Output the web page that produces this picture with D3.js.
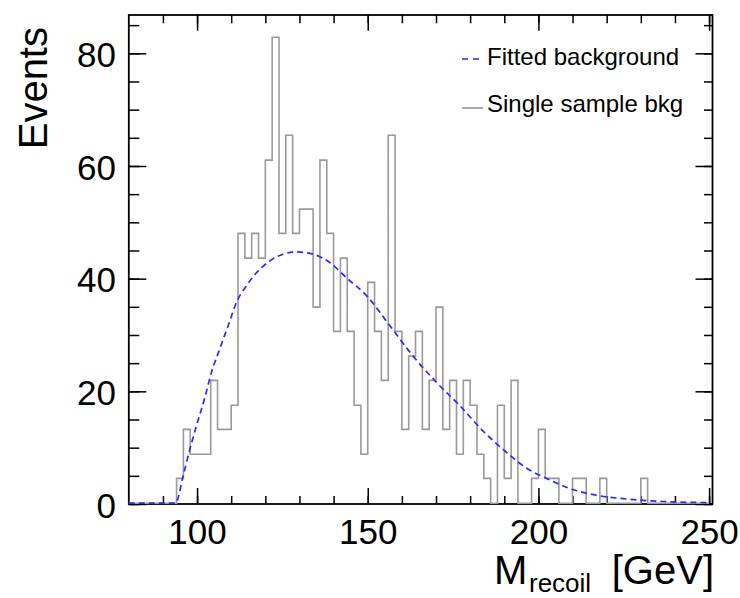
<!DOCTYPE html>
<html><head><meta charset="utf-8">
<script src="https://cdn.jsdelivr.net/npm/d3@7"></script>
<style>
body{margin:0;background:#fff}
svg{display:block}
text{font-family:"Liberation Sans",Arial,Helvetica,sans-serif;fill:#000}
</style>
</head><body><svg id="c" width="740" height="598"></svg>
<script>
// ---- data ----
const binLowEdges = [80,82,84,86,88,90,92,94,96,98,100,102,104,106,108,110,112,114,116,118,120,122,124,126,128,130,132,134,136,138,140,142,144,146,148,150,152,154,156,158,160,162,164,166,168,170,172,174,176,178,180,182,184,186,188,190,192,194,196,198,200,202,204,206,208,210,212,214,216,218,220,222,224,226,228,230,232,234,236,238,240,242,244,246,248];
const binWidth = 2;
const events = [0,0,0,0,0,0,0,4.4,13.1,8.7,8.7,8.7,21.8,13.1,13.1,17.4,47.9,43.5,47.9,43.5,60.9,82.7,47.9,65.3,47.9,52.2,52.2,34.8,60.9,47.9,30.5,43.5,30.5,17.4,8.7,39.2,30.5,21.8,65.3,30.5,13.1,26.1,30.5,13.1,21.8,34.8,13.1,21.8,8.7,21.8,17.4,8.7,4.4,0,17.4,4.4,21.8,0,0,4.4,13.1,4.4,4.4,0,0,4.4,4.4,0,0,4.4,0,0,0,0,0,4.4,0,0,0,0,0,0,0,0,0];
const fitMass = [80,93.7,95.9,97.9,99.8,102.3,104.2,106.6,109.1,111.5,114.5,117.4,121.3,125.2,129.1,134.0,138.9,143.8,149.7,156.5,163.3,170.2,177.0,183.8,190.7,196.6,202.4,209.3,217.1,224.9,236.6,250];
const fitEvents = [0,0,4.8,9.6,13.7,18.8,23.2,27.3,31.5,35.6,38.6,40.9,43.0,44.2,44.6,44.2,42.7,40.0,36.8,31.5,26.1,21.4,17.3,12.8,9.0,6.2,4.4,2.6,1.4,0.8,0.3,0.1];
const xMajorTicks = [100,150,200,250];
const xMinorTicks = [90,100,110,120,130,140,150,160,170,180,190,200,210,220,230,240,250];
const yMajorTicks = [0,20,40,60,80];
const yMinorTicks = [0,5,10,15,20,25,30,35,40,45,50,55,60,65,70,75,80,85];
const xDomain = [80,251];
const yDomain = [0,86.8];
const legendLabels = ["Fitted background","Single sample bkg"];
const yTitle = "Events";
const xTitleMain = "M", xTitleSub = "recoil", xTitleUnit = "[GeV]";

// ---- layout ----
const L = 128.8, R = 712.5, T = 15, B = 504;
const svg = d3.select("#c");
const x = d3.scaleLinear().domain(xDomain).range([L, R]);
const y = d3.scaleLinear().domain(yDomain).range([B, T]);

// axes
function styleAxis(g, fs) {
  g.select(".domain").remove();
  g.selectAll(".tick line").attr("stroke", "#000").attr("stroke-width", 1.5);
  g.selectAll(".tick text").attr("font-size", fs).attr("fill", "#000")
    .style("font-family", '"Liberation Sans",Arial,sans-serif');
}
svg.append("g").attr("transform", `translate(0,${B})`)
  .call(d3.axisBottom(x).tickValues(xMinorTicks).tickSizeInner(-8).tickSizeOuter(0).tickFormat(""))
  .call(g => styleAxis(g, 35));
svg.append("g").attr("transform", `translate(0,${B})`)
  .call(d3.axisBottom(x).tickValues(xMajorTicks).tickSizeInner(-16).tickSizeOuter(0).tickPadding(15).tickFormat(d3.format("d")))
  .call(g => styleAxis(g, 35));
svg.append("g").attr("transform", `translate(0,${T})`)
  .call(d3.axisTop(x).tickValues(xMinorTicks).tickSizeInner(-8.3).tickSizeOuter(0).tickFormat(""))
  .call(g => styleAxis(g, 35));
svg.append("g").attr("transform", `translate(0,${T})`)
  .call(d3.axisTop(x).tickValues(xMajorTicks).tickSizeInner(-15.7).tickSizeOuter(0).tickFormat(""))
  .call(g => styleAxis(g, 35));
svg.append("g").attr("transform", `translate(${L},0)`)
  .call(d3.axisLeft(y).tickValues(yMinorTicks).tickSizeInner(-10.5).tickSizeOuter(0).tickFormat(""))
  .call(g => styleAxis(g, 35));
svg.append("g").attr("transform", `translate(${L},0)`)
  .call(d3.axisLeft(y).tickValues(yMajorTicks).tickSizeInner(-17.5).tickSizeOuter(0).tickPadding(12.8).tickFormat(d3.format("d")))
  .call(g => { styleAxis(g, 35); g.selectAll(".tick text").attr("dy", "0.38em"); });
svg.append("g").attr("transform", `translate(${R},0)`)
  .call(d3.axisRight(y).tickValues(yMinorTicks).tickSizeInner(-8.5).tickSizeOuter(0).tickFormat(""))
  .call(g => styleAxis(g, 35));
svg.append("g").attr("transform", `translate(${R},0)`)
  .call(d3.axisRight(y).tickValues(yMajorTicks).tickSizeInner(-17).tickSizeOuter(0).tickFormat(""))
  .call(g => styleAxis(g, 35));

// frame
svg.append("rect").attr("x", L).attr("y", T).attr("width", R - L).attr("height", B - T)
  .attr("fill", "none").attr("stroke", "#000").attr("stroke-width", 1.8);

// histogram
const histPts = [[xDomain[0], 0]];
binLowEdges.forEach((lo, i) => {
  histPts.push([lo, events[i]]);
  histPts.push([lo + binWidth, events[i]]);
});
const line = d3.line().x(d => x(d[0])).y(d => y(d[1]) - 0.8);
svg.append("path").attr("d", line(histPts))
  .attr("fill", "none").attr("stroke", "#9a9a9a").attr("stroke-width", 1.6);

// fit curve
const fitLine = d3.line().x((d,i) => x(fitMass[i])).y((d,i) => y(fitEvents[i]) - 0.8).curve(d3.curveMonotoneX);
svg.append("path").attr("d", fitLine(fitMass))
  .attr("fill", "none").attr("stroke", "#2a2aff").attr("stroke-width", 1.7)
  .attr("stroke-dasharray", "6,4");

// titles
svg.append("text").attr("transform", "translate(47,27) rotate(-90)")
  .attr("text-anchor", "end").attr("font-size", 40).text(yTitle);
svg.append("text").attr("x", 494).attr("y", 583.5).attr("font-size", 40).text(xTitleMain);
svg.append("text").attr("x", 529).attr("y", 592).attr("font-size", 26).text(xTitleSub);
svg.append("text").attr("x", 714).attr("y", 583.5).attr("text-anchor", "end").attr("font-size", 40).text(xTitleUnit);

// legend
svg.append("line").attr("x1", 462).attr("x2", 483).attr("y1", 59).attr("y2", 59)
  .attr("stroke", "#2a2aff").attr("stroke-width", 1.7).attr("stroke-dasharray", "6,5");
svg.append("text").attr("x", 487).attr("y", 65).attr("font-size", 24).text(legendLabels[0]);
svg.append("line").attr("x1", 462).attr("x2", 483).attr("y1", 108).attr("y2", 108)
  .attr("stroke", "#9a9a9a").attr("stroke-width", 1.6);
svg.append("text").attr("x", 487).attr("y", 112).attr("font-size", 24).text(legendLabels[1]);
</script>
</body></html>
